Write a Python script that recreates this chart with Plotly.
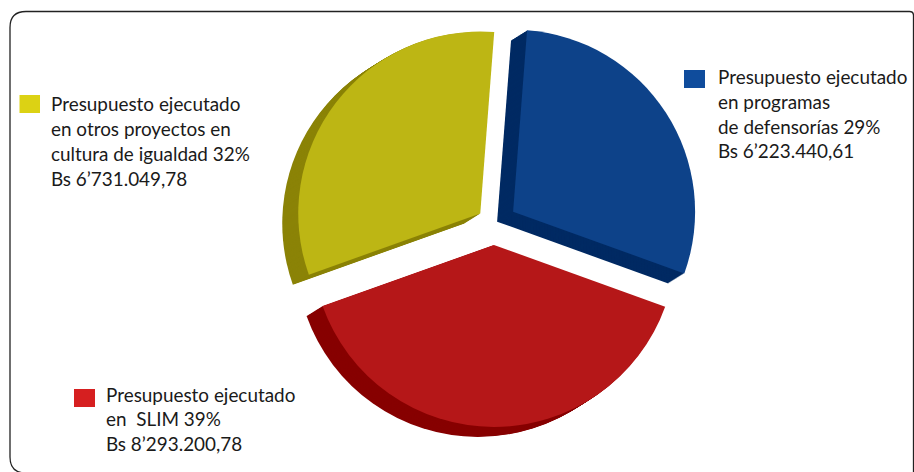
import plotly.graph_objects as go

W, H = 914, 472
categorias = ["Programas de defensorías", "SLIM", "Otros proyectos en cultura de igualdad"]
valores = [6223440.61, 8293200.78, 6731049.78]
caras = ["#0D4289", "#B51718", "#BDB614"]
lados = ["#012A63", "#870000", "#8B8307"]
muestras = ["#0F4C9C", "#D61F20", "#DCD214"]
textos = [
    ["Presupuesto ejecutado", "en programas", "de defensorías 29%", "Bs 6’223.440,61"],
    ["Presupuesto ejecutado", "en  SLIM 39%", "Bs 8’293.200,78"],
    ["Presupuesto ejecutado", "en otros proyectos en", "cultura de igualdad 32%", "Bs 6’731.049,78"],
]
texto_x = [718, 106, 51]
texto_y = [76.5, 394, 104]
muestra_caja = [(684, 70, 705, 88), (74, 389, 95, 407), (19.5, 95, 40, 113)]

CX, CY, SIZE = 494, 224, 409.5
PULL = [0.125, 0.115, 0.095]
DX, DY, STEPS = -16, 10, 16


def pie(dx, dy, colors):
    return go.Pie(
        labels=categorias, values=valores, sort=False, direction="clockwise",
        rotation=4.4, pull=PULL, textinfo="none", hoverinfo="label+percent",
        showlegend=False,
        marker=dict(colors=colors, line=dict(width=0)),
        domain=dict(
            x=[(CX + dx - SIZE / 2) / W, (CX + dx + SIZE / 2) / W],
            y=[1 - (CY + dy + SIZE / 2) / H, 1 - (CY + dy - SIZE / 2) / H],
        ),
    )


fig = go.Figure()
for i in range(STEPS, 0, -1):
    fig.add_trace(pie(DX * i / STEPS, DY * i / STEPS, lados))
fig.add_trace(pie(0, 0, caras))


def px(x):
    return x / W


def py(y):
    return 1 - y / H


# marco redondeado
x0, y0, x1, y1, r = 10, 11.5, 913.5, 473, 16
path = (
    f"M {px(x0)} {py(y0 + r)} Q {px(x0)} {py(y0)} {px(x0 + r)} {py(y0)} "
    f"L {px(x1 - 4)} {py(y0)} Q {px(x1)} {py(y0)} {px(x1)} {py(y0 + 4)} "
    f"L {px(x1)} {py(y1)} L {px(x0 + r)} {py(y1)} Q {px(x0)} {py(y1)} {px(x0)} {py(y1 - r)} Z"
)
shapes = [dict(type="path", xref="paper", yref="paper", path=path,
               line=dict(color="#222222", width=1.3), layer="below")]
for (a, b, c, d), col in zip(muestra_caja, muestras):
    shapes.append(dict(type="rect", xref="paper", yref="paper",
                       x0=px(a), x1=px(c), y0=py(d), y1=py(b),
                       fillcolor=col, line=dict(width=0)))

annotations = []
for lineas, tx, ty in zip(textos, texto_x, texto_y):
    for k, linea in enumerate(lineas):
        annotations.append(dict(
            text=linea, xref="paper", yref="paper", x=px(tx), y=py(ty + k * 24.8),
            xanchor="left", yanchor="middle", showarrow=False,
            font=dict(family="Lato, Carlito, Open Sans, sans-serif", size=18.9, color="#1a1a1a"),
            borderpad=0, borderwidth=0,
        ))

fig.update_layout(
    width=W, height=H, margin=dict(l=0, r=0, t=0, b=0),
    paper_bgcolor="white", plot_bgcolor="white",
    shapes=shapes, annotations=annotations,
)
fig.write_html(
    "out.html",
    config={"displayModeBar": False},
    post_script="document.body.style.margin='0';document.documentElement.style.overflow='hidden';",
)
